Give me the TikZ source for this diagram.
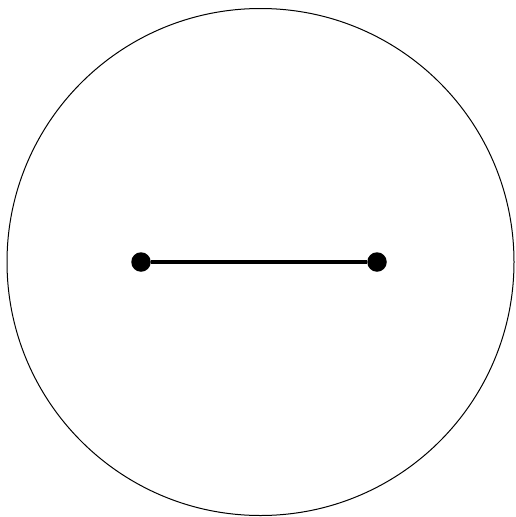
\documentclass[tikz,border=0pt]{standalone}
\begin{document}
\begin{tikzpicture}[x=1pt,y=-1pt,
  dot/.style={circle,fill=black,inner sep=0pt,minimum size=19.5pt}]
\useasboundingbox (0,0) rectangle (516,517);
\draw[line width=1pt] (260.5,262) circle[radius=253.5];
\node[dot] (a) at (141,262) {};
\node[dot] (b) at (377,262) {};
\draw[line width=3.5pt] (a) -- (b);
\end{tikzpicture}
\end{document}
